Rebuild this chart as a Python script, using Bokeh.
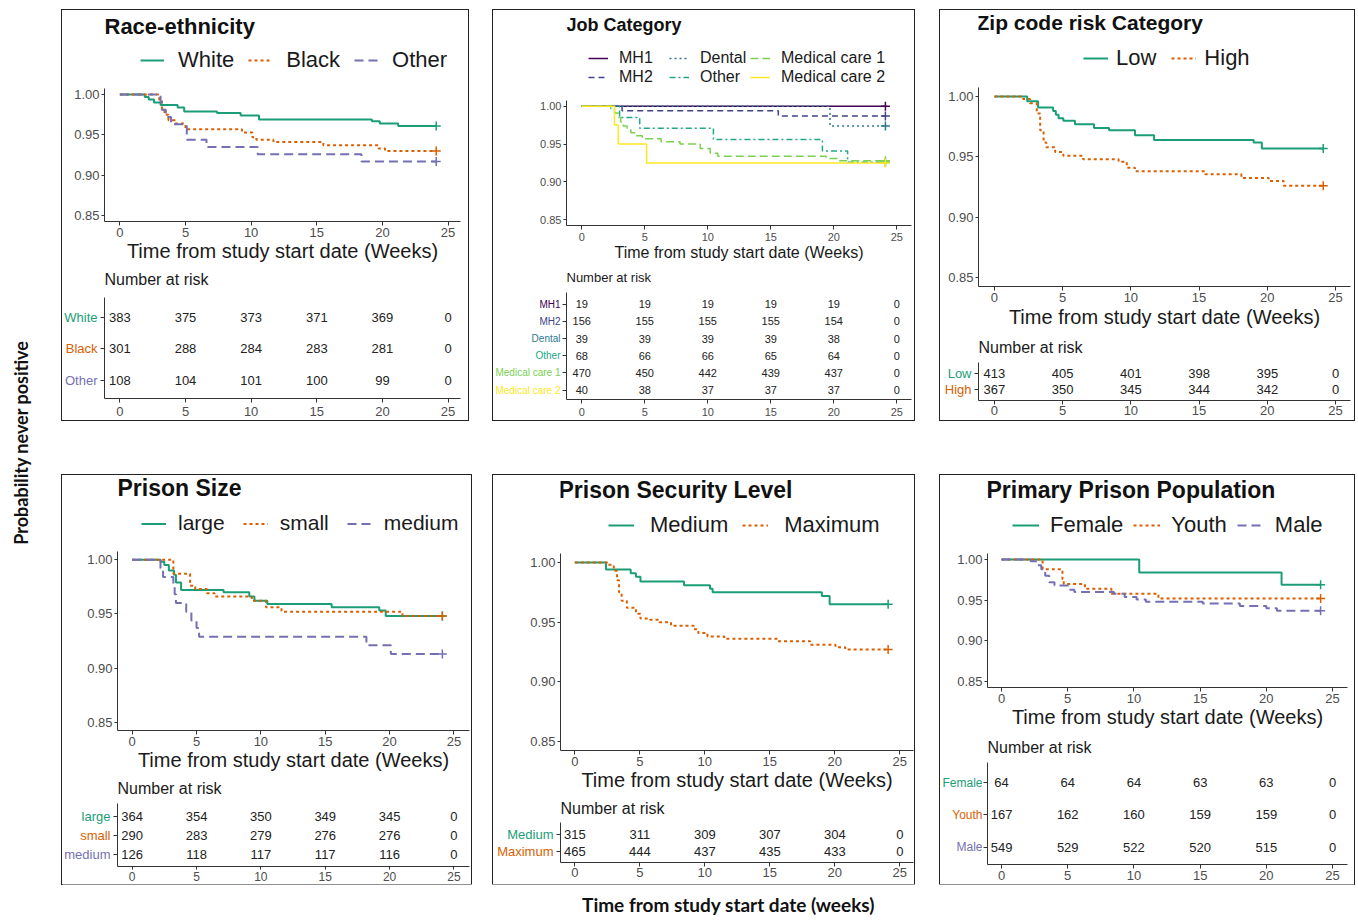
import math
from bokeh.plotting import figure
from bokeh.models import (Legend, LegendItem, Label, FixedTicker, NumeralTickFormatter,
                          Range1d, Spacer, ColumnDataSource)
from bokeh.layouts import row, column
from bokeh.embed import file_html
from bokeh.resources import INLINE
from bokeh.core.properties import value

# ---------------------------------------------------------------- data
week_ticks = [0, 5, 10, 15, 20, 25]
surv_ticks = [0.85, 0.90, 0.95, 1.00]
risk_weeks = [0, 5, 10, 15, 20, 25]
follow_up_end = 24.1

# Race-ethnicity
race_groups = ["White", "Black", "Other"]
race_white_t = [1.9, 2.2, 2.6, 3.1, 4.4, 4.9, 7.4, 9.2, 10.6, 19.2, 19.8, 21.2]
race_white_s = [0.997, 0.994, 0.990, 0.987, 0.984, 0.979, 0.977, 0.974, 0.969, 0.967, 0.964, 0.961]
race_black_t = [3.0, 3.2, 3.4, 3.7, 4.2, 5.0, 9.3, 10.1, 10.4, 11.7, 15.5, 19.7, 20.2]
race_black_s = [0.993, 0.983, 0.975, 0.968, 0.964, 0.957, 0.953, 0.947, 0.944, 0.941, 0.937, 0.933, 0.930]
race_other_t = [3.1, 3.2, 3.5, 3.9, 5.1, 6.6, 10.5, 18.4]
race_other_s = [0.991, 0.981, 0.972, 0.963, 0.944, 0.935, 0.926, 0.917]
race_white_n = [383, 375, 373, 371, 369, 0]
race_black_n = [301, 288, 284, 283, 281, 0]
race_other_n = [108, 104, 101, 100, 99, 0]

# Job category
job_groups = ["MH1", "MH2", "Dental", "Other", "Medical care 1", "Medical care 2"]
job_mh1_t = []
job_mh1_s = []
job_mh2_t = [3.2, 15.6]
job_mh2_s = [0.994, 0.987]
job_dental_t = [19.7]
job_dental_s = [0.974]
job_other_t = [3.0, 4.6, 10.45, 19.1, 21.1]
job_other_s = [0.985, 0.971, 0.956, 0.941, 0.926]
job_mc1_t = [2.3, 2.6, 2.9, 3.1, 3.3, 3.6, 3.9, 4.3, 4.8, 6.3, 7.8, 9.4, 10.2, 10.8, 19.4, 20.3]
job_mc1_s = [0.996, 0.991, 0.985, 0.979, 0.974, 0.969, 0.965, 0.961, 0.957, 0.953, 0.950,
             0.944, 0.938, 0.934, 0.931, 0.928]
job_mc2_t = [2.6, 2.9, 5.15]
job_mc2_s = [0.975, 0.950, 0.925]
job_mh1_n = [19, 19, 19, 19, 19, 0]
job_mh2_n = [156, 155, 155, 155, 154, 0]
job_dental_n = [39, 39, 39, 39, 38, 0]
job_other_n = [68, 66, 66, 65, 64, 0]
job_mc1_n = [470, 450, 442, 439, 437, 0]
job_mc2_n = [40, 38, 37, 37, 37, 0]

# Zip code risk category
zip_groups = ["Low", "High"]
zip_low_t = [2.4, 3.2, 4.3, 4.5, 4.7, 5.05, 5.9, 7.3, 8.4, 10.3, 11.7, 19.0, 19.6]
zip_low_s = [0.996, 0.991, 0.988, 0.985, 0.982, 0.980, 0.977, 0.974, 0.972, 0.968, 0.964, 0.962, 0.957]
zip_high_t = [2.1, 2.6, 3.1, 3.35, 3.6, 3.8, 4.45, 5.05, 6.5, 9.1, 9.7, 10.3, 15.45, 18.1, 20.1, 21.2]
zip_high_s = [0.998, 0.9945, 0.986, 0.972, 0.962, 0.958, 0.954, 0.951, 0.948, 0.946, 0.941,
              0.938, 0.9355, 0.9325, 0.930, 0.926]
zip_low_n = [413, 405, 401, 398, 395, 0]
zip_high_n = [367, 350, 345, 344, 342, 0]

# Prison size
size_groups = ["large", "small", "medium"]
size_large_t = [2.2, 2.5, 2.85, 3.25, 3.4, 3.8, 7.1, 9.1, 9.5, 10.5, 15.5, 19.2, 19.7]
size_large_s = [0.998, 0.995, 0.990, 0.986, 0.979, 0.972, 0.970, 0.966, 0.962, 0.959, 0.956, 0.953, 0.948]
size_small_t = [3.2, 4.5, 4.9, 5.8, 6.4, 9.3, 10.4, 11.6, 21.0]
size_small_s = [0.987, 0.976, 0.973, 0.969, 0.966, 0.962, 0.956, 0.952, 0.948]
size_medium_t = [2.2, 2.4, 3.2, 3.3, 3.4, 4.2, 4.6, 5.0, 5.2, 18.2, 20.1]
size_medium_s = [0.992, 0.984, 0.976, 0.968, 0.960, 0.952, 0.944, 0.937, 0.929, 0.921, 0.913]
size_large_n = [364, 354, 350, 349, 345, 0]
size_small_n = [290, 283, 279, 276, 276, 0]
size_medium_n = [126, 118, 117, 117, 116, 0]

# Prison security level
sec_groups = ["Medium", "Maximum"]
sec_med_t = [2.4, 4.3, 4.7, 5.05, 8.4, 10.4, 10.6, 19.0, 19.6]
sec_med_s = [0.994, 0.991, 0.988, 0.984, 0.981, 0.978, 0.975, 0.972, 0.965]
sec_max_t = [2.6, 3.0, 3.25, 3.4, 3.6, 4.0, 4.7, 5.05, 5.8, 6.5, 7.4, 9.15, 9.5, 10.2, 11.5,
             15.6, 18.1, 20.05, 20.8]
sec_max_s = [0.998, 0.993, 0.985, 0.975, 0.968, 0.962, 0.957, 0.953, 0.952, 0.950, 0.947,
             0.944, 0.941, 0.938, 0.936, 0.934, 0.931, 0.929, 0.927]
sec_med_n = [315, 311, 309, 307, 304, 0]
sec_max_n = [465, 444, 437, 435, 433, 0]

# Primary prison population
pop_groups = ["Female", "Youth", "Male"]
pop_female_t = [10.4, 21.15]
pop_female_s = [0.984, 0.969]
pop_youth_t = [3.1, 4.6, 4.7, 6.3, 8.3, 11.85]
pop_youth_s = [0.988, 0.976, 0.970, 0.964, 0.958, 0.952]
pop_male_t = [2.2, 2.7, 3.0, 3.3, 3.6, 4.0, 5.0, 5.5, 8.5, 9.3, 10.2, 10.9, 15.2, 18.0, 20.0, 20.8]
pop_male_s = [0.998, 0.993, 0.988, 0.980, 0.972, 0.968, 0.963, 0.960, 0.958, 0.954, 0.951,
              0.948, 0.946, 0.943, 0.940, 0.937]
pop_female_n = [64, 64, 64, 63, 63, 0]
pop_youth_n = [167, 162, 160, 159, 159, 0]
pop_male_n = [549, 529, 522, 520, 515, 0]

# ---------------------------------------------------------------- styles
FONT = "Liberation Sans"
GFONT = "Lato"
DARK2 = ["#1B9E77", "#D95F02", "#7570B3"]
VIRIDIS6 = ["#440154", "#414487", "#2A788E", "#22A884", "#7AD151", "#FDE725"]
DASH3 = ["solid", "3 3", "9 5"]
DASH6 = ["solid", "6 4", "2 3", "6 3 2 3", "8 4", "solid"]
AXIS_C = "#333333"
TICKLAB_C = "#4D4D4D"
TEXT_C = "#1A1A1A"
Y_LO, Y_HI = 0.8425, 1.0075


def add_curve(p, t, s, color, dash, width):
    xs = [0.0] + list(t) + [follow_up_end]
    ys = [1.0] + list(s) + [s[-1] if s else 1.0]
    r = p.step(x=xs, y=ys, mode="after", line_color=color, line_dash=dash, line_width=width)
    p.scatter(x=[xs[-1]], y=[ys[-1]], marker="cross", size=9, line_color=color, line_width=1.5)
    return r


def style_axis(ax, size, tick_out, standoff):
    ax.axis_line_color = AXIS_C
    ax.axis_line_width = 1
    ax.major_tick_line_color = AXIS_C
    ax.major_tick_out = tick_out
    ax.major_tick_in = 0
    ax.minor_tick_line_color = None
    ax.major_label_text_font = FONT
    ax.major_label_text_font_size = f"{size}px"
    ax.major_label_text_color = TICKLAB_C
    ax.major_label_standoff = standoff


def make_panel(sp, names, ts, ss, counts, colors, dashes):
    w, bl, br = sp["w"], sp["bl"], sp["br"]
    # ---------------- KM curves (frame also holds the title and legend area)
    pxu = sp["km_fh"] / (Y_HI - Y_LO)
    ytop = Y_HI + sp["km_top"] / pxu
    km = figure(width=w, height=sp["km_h"], output_backend="svg", toolbar_location=None,
                x_range=Range1d(*sp["xr"]), y_range=Range1d(Y_LO, ytop),
                min_border_left=bl, min_border_right=br, min_border_top=0,
                min_border_bottom=sp["km_h"] - sp["km_top"] - sp["km_fh"],
                background_fill_color="white", border_fill_color="white",
                outline_line_color=None)
    km.grid.visible = False
    items = []
    for name, t, s, c, d in zip(names, ts, ss, colors, dashes):
        r = add_curve(km, t, s, c, d, sp["lw"])
        items.append(LegendItem(label=name, renderers=[r]))

    nrows = sp.get("leg_rows", 1)
    leg_h = nrows * sp["leg_row"] + (nrows - 1) * sp["leg_sp"]
    ly = sp["km_fh"] + sp["km_top"] - sp["leg_c"] - leg_h / 2.0
    legend = Legend(items=items, location=(sp["leg_x"], ly),
                    orientation="horizontal" if nrows == 1 else "vertical",
                    label_text_font=FONT, label_text_font_size=f"{sp['leg_size']}px",
                    label_text_color=TEXT_C, label_height=sp["leg_row"],
                    glyph_height=sp["leg_row"], glyph_width=sp["glyph_w"],
                    label_standoff=sp["leg_so"], spacing=sp["leg_sp"],
                    padding=0, margin=0, border_line_color=None,
                    background_fill_alpha=0)
    if nrows > 1:
        legend.nrows = nrows
        legend.label_width = sp["label_w"]
    km.add_layout(legend)

    km.add_layout(Label(x=sp["xr"][0], y=ytop - sp["title_c"] / pxu,
                        x_offset=sp.get("title_off", 0), text=sp["title"],
                        text_align="left", text_baseline="middle", text_font=FONT,
                        text_font_style="bold", text_font_size=f"{sp['title_size']}px",
                        text_color="#111111"))

    tk = sp["tick"]
    kso = max(0, round(12 - 4 - 0.43 * tk))
    style_axis(km.xaxis[0], tk, 4, kso)
    style_axis(km.yaxis[0], tk, 3, 2)
    km.xaxis.ticker = FixedTicker(ticks=week_ticks)
    km.yaxis.ticker = FixedTicker(ticks=surv_ticks)
    km.yaxis.formatter = NumeralTickFormatter(format="0.00")
    km.yaxis.bounds = (Y_LO, Y_HI)
    xl = sp["xlab"]
    km.xaxis.axis_label = "Time from study start date (Weeks)"
    km.xaxis.axis_label_text_font = FONT
    km.xaxis.axis_label_text_font_style = "normal"
    km.xaxis.axis_label_text_font_size = f"{xl}px"
    km.xaxis.axis_label_text_color = TEXT_C
    km.xaxis.axis_label_standoff = round(sp["xlab_c"] - 4 - kso - (1.15 * tk + 0.45 * xl))

    # ---------------- risk table
    n = len(names)
    rows_y = list(range(n, 0, -1))
    ty0, ty1 = sp["tyr"]
    pxt = sp["tb_fh"] / (ty1 - ty0)
    t_top = ty1 + sp["tb_top"] / pxt
    tb_bottom = sp["tb_h"] - sp["tb_top"] - sp["tb_fh"]
    yr_t = Range1d(ty0, t_top)
    L = bl - 5
    tb = figure(width=w - L, height=sp["tb_h"], output_backend="svg", toolbar_location=None,
                x_range=Range1d(*sp["xr"]), y_range=yr_t,
                min_border_left=5, min_border_right=br, min_border_top=0,
                min_border_bottom=tb_bottom,
                background_fill_color="white", border_fill_color="white",
                outline_line_color=None)
    tb.grid.visible = False
    xs, ys, txt = [], [], []
    for cnt, ry in zip(counts, rows_y):
        for wk, c in zip(risk_weeks, cnt):
            xs.append(wk)
            ys.append(ry)
            txt.append(str(c))
    tb.text(x=xs, y=ys, text=txt, text_font=value(FONT),
            text_font_size=value(f"{sp['num']}px"), text_align="center",
            text_baseline="middle", text_color="#222222")
    tto = sp.get("tb_tick_out", 4)
    tso = max(0, round(sp["tb_tick_c"] - tto - 0.43 * sp["tb_tick"]))
    style_axis(tb.xaxis[0], sp["tb_tick"], tto, tso)
    style_axis(tb.yaxis[0], sp["tb_tick"], 4, 0)
    tb.xaxis.ticker = FixedTicker(ticks=week_ticks)
    tb.yaxis.ticker = FixedTicker(ticks=rows_y)
    tb.yaxis.major_label_overrides = {ry: "" for ry in rows_y}
    tb.yaxis.bounds = (ty0, ty1)
    tb.add_layout(Label(x=sp["xr"][0], y=ty1 + (sp["tb_top"] - sp["tb_title_c"]) / pxt,
                        text="Number at risk", text_align="left", text_baseline="middle",
                        text_font=FONT, text_font_size=f"{sp['tb_title']}px",
                        text_color=TEXT_C))

    # group names to the left of the table axis
    lab = figure(width=L, height=sp["tb_h"], output_backend="svg", toolbar_location=None,
                 x_range=Range1d(0, L), y_range=yr_t, x_axis_type=None, y_axis_type=None,
                 min_border_left=0, min_border_right=0, min_border_top=0,
                 min_border_bottom=tb_bottom, outline_line_color=None,
                 background_fill_color="white", border_fill_color="white")
    lab.text(x=[L - (sp["lab_off"] - 5)] * n, y=rows_y, text=list(names),
             text_color=list(colors), text_font=value(FONT),
             text_font_size=value(f"{sp['grp']}px"), text_align="right",
             text_baseline="middle")

    return column(km, row(lab, tb), styles={"outline": "1.5px solid #222222"})


base = dict(lw=2, leg_sp=14, tick=13, xlab=20, xlab_c=30, num=13, grp=13, lab_off=7,
            tb_title=16, tb_tick=13, tb_tick_c=12)

sp1 = dict(base, w=406, km_h=255, km_top=78, km_fh=133, bl=42, br=8, xr=(-1.17, 25.95),
           title="Race-ethnicity", title_size=22, title_c=15.7,
           leg_size=22, leg_row=26, leg_c=50, leg_x=36, glyph_w=24, leg_so=14, leg_sp=14,
           tb_h=155, tb_top=32, tb_fh=101, tyr=(0.42, 3.63), tb_title_c=14, tb_tick_c=13.4)
sp2 = dict(base, w=421, km_h=255, km_top=90, km_fh=125, bl=73, br=3, xr=(-1.21, 26.17),
           title="Job Category", title_size=18, title_c=14, lw=1.5,
           leg_size=16, leg_row=18, leg_rows=2, leg_c=57.5, leg_x=22, glyph_w=20, leg_so=11,
           leg_sp=1, label_w=49, tick=11, xlab=16, xlab_c=27,
           tb_h=155, tb_top=27, tb_fh=107, tyr=(0.46, 6.67), tb_title=13, tb_title_c=11.7,
           num=11, grp=10, lab_off=6, tb_tick=11, tb_tick_c=12.4)
sp3 = dict(base, w=414, km_h=322, km_top=77, km_fh=199, bl=38, br=4, xr=(-1.17, 26.1),
           title="Zip code risk Category", title_size=21, title_c=12, title_off=-2,
           xlab_c=30.6,
           leg_size=22, leg_row=26, leg_c=48, leg_x=105, glyph_w=25, leg_so=8, leg_sp=15,
           tb_h=88, tb_top=30, tb_fh=38, tyr=(0.31, 2.69), tb_title_c=15, tb_tick_c=11)
sp4 = dict(base, w=409, km_h=300, km_top=76, km_fh=179, bl=55, br=2, xr=(-1.14, 26.21),
           title="Prison Size", title_size=23, title_c=12,
           leg_size=21, leg_row=25, leg_c=48, leg_x=24, glyph_w=25, leg_so=12, leg_sp=18,
           tb_h=109, tb_top=28, tb_fh=63, tyr=(0.37, 3.68), tb_title_c=13, tb_tick=12,
           tb_tick_out=3, tb_tick_c=10)
sp5 = dict(base, w=421, km_h=320, km_top=78, km_fh=197, bl=67, br=1, xr=(-1.10, 26.05),
           title="Prison Security Level", title_size=23, title_c=14, title_off=-2,
           leg_size=22, leg_row=26, leg_c=50, leg_x=48, glyph_w=26, leg_so=16, leg_sp=14,
           tb_h=89, tb_top=27, tb_fh=40, tyr=(0.35, 2.70), tb_title_c=13, tb_tick_c=11)
sp6 = dict(base, w=414, km_h=257, km_top=78, km_fh=134, bl=47, br=7, xr=(-1.06, 26.13),
           title="Primary Prison Population", title_size=23, title_c=14, title_off=-1,
           leg_size=22, leg_row=26, leg_c=50, leg_x=25, glyph_w=27, leg_so=11, leg_sp=10,
           tb_h=152, tb_top=30, tb_fh=102, tyr=(0.46, 3.62), tb_title_c=15, tb_tick_c=11.7,
           grp=12, lab_off=5)

p1 = make_panel(sp1, race_groups, [race_white_t, race_black_t, race_other_t],
                [race_white_s, race_black_s, race_other_s],
                [race_white_n, race_black_n, race_other_n], DARK2, DASH3)
p2 = make_panel(sp2, job_groups,
                [job_mh1_t, job_mh2_t, job_dental_t, job_other_t, job_mc1_t, job_mc2_t],
                [job_mh1_s, job_mh2_s, job_dental_s, job_other_s, job_mc1_s, job_mc2_s],
                [job_mh1_n, job_mh2_n, job_dental_n, job_other_n, job_mc1_n, job_mc2_n],
                VIRIDIS6, DASH6)
p3 = make_panel(sp3, zip_groups, [zip_low_t, zip_high_t], [zip_low_s, zip_high_s],
                [zip_low_n, zip_high_n], DARK2[:2], DASH3[:2])
p4 = make_panel(sp4, size_groups, [size_large_t, size_small_t, size_medium_t],
                [size_large_s, size_small_s, size_medium_s],
                [size_large_n, size_small_n, size_medium_n], DARK2, DASH3)
p5 = make_panel(sp5, sec_groups, [sec_med_t, sec_max_t], [sec_med_s, sec_max_s],
                [sec_med_n, sec_max_n], DARK2[:2], DASH3[:2])
p6 = make_panel(sp6, pop_groups, [pop_female_t, pop_youth_t, pop_male_t],
                [pop_female_s, pop_youth_s, pop_male_s],
                [pop_female_n, pop_youth_n, pop_male_n], DARK2, DASH3)

TOTAL_H = 918
YLAB_W = 62
ylab = figure(width=YLAB_W, height=TOTAL_H, output_backend="svg", toolbar_location=None,
              x_range=Range1d(0, YLAB_W), y_range=Range1d(0, TOTAL_H),
              x_axis_type=None, y_axis_type=None, min_border=0, outline_line_color=None)
ylab.add_layout(Label(x=20, y=TOTAL_H - 442, text="Probability never positive", angle=math.pi / 2,
                      text_align="center", text_baseline="middle", text_font=GFONT,
                      text_font_style="bold", text_font_size="18px", text_color="#111111"))

XW = 1292
XH = 34
xlab = figure(width=XW, height=XH, output_backend="svg", toolbar_location=None,
              x_range=Range1d(0, XW), y_range=Range1d(0, XH),
              x_axis_type=None, y_axis_type=None, min_border=0, outline_line_color=None)
xlab.add_layout(Label(x=728 - YLAB_W, y=XH - 20, text="Time from study start date (weeks)",
                      text_align="center", text_baseline="middle", text_font=GFONT,
                      text_font_style="bold", text_font_size="19px", text_color="#111111"))

top = row(p1, Spacer(width=25), p2, Spacer(width=26), p3)
bottom = row(p4, Spacer(width=22), p5, Spacer(width=26), p6)
page = row(ylab, column(Spacer(height=10), top, Spacer(height=55), bottom, xlab))

open("out.html", "w").write(file_html(page, INLINE))
